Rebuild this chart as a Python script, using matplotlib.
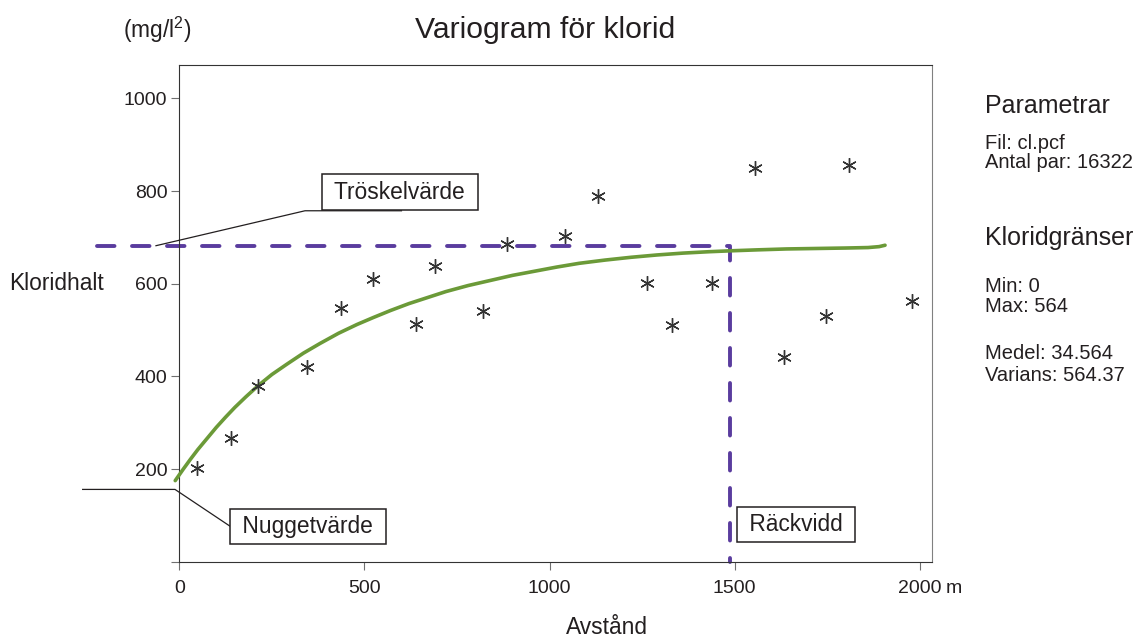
import matplotlib
matplotlib.use('Agg')
import matplotlib.pyplot as plt

plt.rcParams['font.family'] = ['Liberation Sans', 'DejaVu Sans']
plt.rcParams['mathtext.fontset'] = 'custom'
plt.rcParams['mathtext.rm'] = 'Liberation Sans'
plt.rcParams['mathtext.it'] = 'Liberation Sans'

W, H = 1145, 637
INK = '#231f20'
PURPLE = '#5a3c9e'
GREEN = '#6b9a38'

# experimental variogram: lag distance (m) and semivariance
lag = [47, 139, 212, 346, 436, 522, 639, 691, 821, 886,
       1042, 1132, 1262, 1330, 1439, 1555, 1633, 1746, 1808, 1980]
gamma = [203, 266, 380, 421, 548, 610, 512, 639, 540, 685,
         704, 789, 601, 511, 601, 849, 441, 531, 856, 563]

# fitted model curve
model_x = [-11, 10, 30, 50, 75, 100, 125, 150, 180, 213, 250, 290, 335,
           380, 430, 480, 524, 570, 620, 670, 720, 780, 840, 900, 960,
           1020, 1080, 1150, 1220, 1290, 1360, 1430, 1490, 1560, 1640,
           1720, 1800, 1860, 1890, 1906]
model_y = [175, 199, 221, 242, 266, 290, 312, 333, 356, 380, 404, 426, 450,
           471, 493, 512, 527, 542, 557, 570, 583, 596, 607, 618, 627,
           636, 644, 651, 657, 662, 666, 669, 671, 673, 675,
           676, 677, 678, 680, 683]

sill = 682
nugget = 156
rng = 1487

x_ticks = [0, 500, 1000, 1500, 2000]
y_ticks = [0, 200, 400, 600, 800, 1000]
y_ticklabels = ['', '200', '400', '600', '800', '1000']

side_title1 = 'Parametrar'
side_lines1 = ['Fil: cl.pcf', 'Antal par: 16322']
side_title2 = 'Kloridgränser'
side_lines2 = ['Min: 0', 'Max: 564']
side_lines3 = ['Medel: 34.564', 'Varians: 564.37']


def px(x, y):
    # pixel position -> figure fraction
    return x / W, 1 - y / H


fig = plt.figure(figsize=(W / 100, H / 100), dpi=100)
l, b = px(179.3, 561.7)
r, t = px(931.7, 65)
ax = fig.add_axes([l, b, r - l, t - b])
ax.set_xlim(0, 2032)
ax.set_ylim(0, 1072)

for side in ['left', 'bottom', 'top']:
    ax.spines[side].set_color('#333333')
    ax.spines[side].set_linewidth(0.8)
ax.spines['right'].set_color('#808080')
ax.spines['right'].set_linewidth(0.8)

ax.set_xticks(x_ticks)
ax.set_yticks(y_ticks)
ax.set_yticklabels(y_ticklabels)
ax.tick_params(direction='out', length=5.5, width=0.8, color='#707070',
               labelsize=14, labelcolor=INK)
ax.tick_params(axis='x', pad=8)
ax.tick_params(axis='y', pad=3)

# sill / range guide
ax.plot([-222, rng, rng], [sill, sill, 0], color=PURPLE, lw=2.8,
        dashes=(4.5, 4.5), dash_capstyle='round', clip_on=False, zorder=2)

# model
ax.plot(model_x, model_y, color=GREEN, lw=2.6, solid_capstyle='round',
        solid_joinstyle='round', clip_on=False, zorder=3)

# data points
ax.plot(lag, gamma, ls='none', marker=(6, 2, 0), ms=10.5, mew=1.0,
        color='#333333', zorder=4)

# callouts
box = dict(boxstyle='square,pad=0.27', fc='white', ec=INK, lw=1.1)
ax.plot([-63, 339.5, 600], [sill, 757.4, 757.4], color=INK, lw=0.9,
        clip_on=False, zorder=5)
ax.text(596, 797.8, ' Tröskelvärde ', fontsize=16.4, color=INK,
        ha='center', va='center', bbox=box, zorder=6)

ax.plot([-261, -11.6, 141.5], [nugget, nugget, 74.2], color=INK, lw=0.9,
        clip_on=False, zorder=5)
ax.text(347.3, 75.5, ' Nuggetvärde ', fontsize=16.4, color=INK,
        ha='center', va='center', bbox=box, zorder=6)

ax.text(1665, 80.9, ' Räckvidd ', fontsize=16.4, color=INK,
        ha='center', va='center', bbox=box, zorder=6)

# titles and axis labels
fig.text(*px(545, 38), 'Variogram för klorid', fontsize=21.7, color=INK,
         ha='center', va='baseline')
fig.text(*px(123.3, 38), '(mg/l$^{2}$)', fontsize=16.4, color=INK,
         ha='left', va='baseline')
fig.text(*px(9.3, 290), 'Kloridhalt', fontsize=16.4, color=INK,
         ha='left', va='baseline')
fig.text(*px(606.5, 634), 'Avstånd', fontsize=16.4, color=INK,
         ha='center', va='baseline')
fig.text(*px(946, 592.7), 'm', fontsize=14, color=INK,
         ha='left', va='baseline')

# side panel
fig.text(*px(985, 113), side_title1, fontsize=18, color=INK, va='baseline')
for txt, yb in zip(side_lines1, [149, 168.5]):
    fig.text(*px(985, yb), txt, fontsize=14.5, color=INK, va='baseline')
fig.text(*px(985, 245), side_title2, fontsize=18, color=INK, va='baseline')
for txt, yb in zip(side_lines2, [292, 312]):
    fig.text(*px(985, yb), txt, fontsize=14.5, color=INK, va='baseline')
for txt, yb in zip(side_lines3, [358.6, 380.6]):
    fig.text(*px(985, yb), txt, fontsize=14.5, color=INK, va='baseline')

fig.savefig('out.png', dpi=100)
